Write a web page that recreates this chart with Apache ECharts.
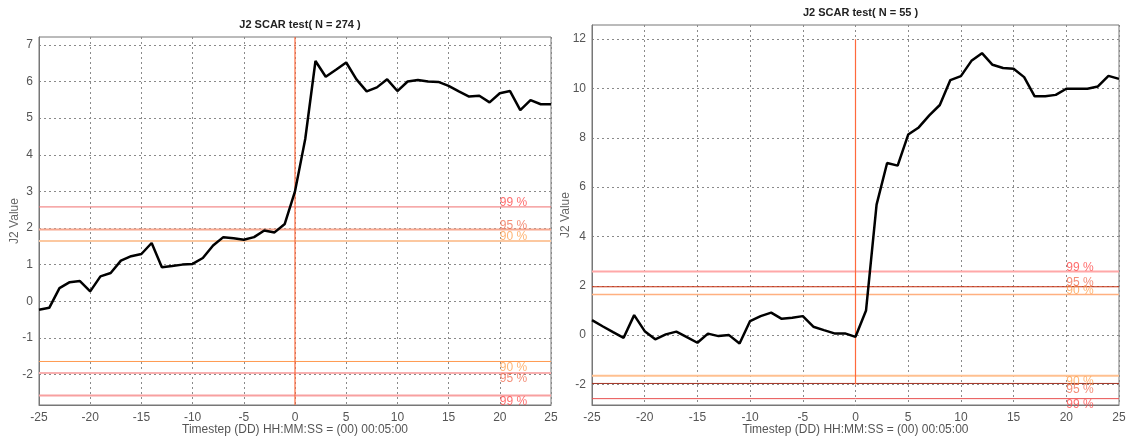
<!DOCTYPE html>
<html>
<head>
<meta charset="utf-8">
<script src="https://cdn.jsdelivr.net/npm/echarts@6/dist/echarts.min.js"></script>
<style>
html,body{margin:0;padding:0;background:#fff;}
#c{width:1127px;height:437px;}
</style>
</head>
<body>
<div id="c"></div>
<script>
const timesteps = [-25,-24,-23,-22,-21,-20,-19,-18,-17,-16,-15,-14,-13,-12,-11,-10,-9,-8,-7,-6,-5,-4,-3,-2,-1,0,1,2,3,4,5,6,7,8,9,10,11,12,13,14,15,16,17,18,19,20,21,22,23,24,25];
const leftValues = [-0.23,-0.18,0.36,0.52,0.55,0.27,0.68,0.77,1.11,1.23,1.29,1.59,0.93,0.96,1.00,1.02,1.18,1.52,1.75,1.72,1.68,1.75,1.93,1.88,2.11,3.0,4.43,6.56,6.13,6.32,6.52,6.06,5.73,5.84,6.06,5.74,6.0,6.04,6.0,5.99,5.88,5.73,5.59,5.61,5.43,5.68,5.74,5.22,5.49,5.38,5.38];
const rightValues = [0.61,0.36,0.12,-0.11,0.81,0.16,-0.17,0.03,0.14,-0.08,-0.31,0.06,-0.04,0.0,-0.34,0.57,0.77,0.91,0.66,0.70,0.77,0.34,0.2,0.07,0.07,-0.07,1.0,5.29,6.98,6.87,8.13,8.42,8.91,9.33,10.34,10.50,11.12,11.43,10.96,10.83,10.8,10.46,9.68,9.68,9.74,9.99,9.99,9.99,10.08,10.51,10.39];
const titles = ['J2 SCAR test( N = 274 )', 'J2 SCAR test( N = 55 )'];
const thresholdNames = ['90 %', '95 %', '99 %'];
const thresholdValues = [1.645, 1.96, 2.576];
const xTickValues = [-25,-20,-15,-10,-5,0,5,10,15,20,25];
const leftYTicks = [-2,-1,0,1,2,3,4,5,6,7];
const rightYTicks = [-2,0,2,4,6,8,10,12];
const labelX = 20;

const FONT = '"Liberation Sans", Arial, Helvetica, sans-serif';
const grids = [
  {left: 39, top: 37, width: 512, height: 368},
  {left: 592, top: 25, width: 527, height: 380}
];
const yTicks = [leftYTicks, rightYTicks];
const yRanges = [
  [-thresholdValues[2]*1.1, Math.max(...leftValues)*1.1],
  [-thresholdValues[2]*1.1, Math.max(...rightValues)*1.1]
];
const vLineRanges = [yRanges[0], [-2, 12]];
const xMin = xTickValues[0], xMax = xTickValues[xTickValues.length-1];

// threshold line styles per chart: [+90,+95,+99,-90,-95,-99]
const lineStyles = [
  [
    {color:'#fcc8a0', width:2},
    {color:'#f8a890', width:2},
    {color:'#f07070', width:1},
    {color:'#ff9a50', width:1},
    {color:'#f8b0b0', width:2},
    {color:'#f8a0a0', width:2}
  ],
  [
    {color:'#ffb080', width:1.5},
    {color:'#c83010', width:1},
    {color:'#ffa8a8', width:2},
    {color:'#ffc090', width:2},
    {color:'#a03020', width:1},
    {color:'#e85050', width:1}
  ]
];
const labelColors = ['#ffa050', '#f07055', '#ff4848'];

function refLine(i, pts, style) {
  return {
    type:'line', xAxisIndex:i, yAxisIndex:i, data:pts, silent:true,
    showSymbol:false, symbol:'none', z:2,
    lineStyle:Object.assign({type:'solid', opacity:1}, style),
    itemStyle:{color:style.color},
    emphasis:{disabled:true}
  };
}

function makeChart(i, values) {
  const pairs = timesteps.map((t, k) => [t, values[k]]);
  const out = [];
  thresholdValues.forEach((v, k) => {
    out.push(refLine(i, [[xMin, v], [xMax, v]], lineStyles[i][k]));
  });
  thresholdValues.forEach((v, k) => {
    out.push(refLine(i, [[xMin, -v], [xMax, -v]], lineStyles[i][3+k]));
  });
  out.push(refLine(i, [[0, vLineRanges[i][0]], [0, vLineRanges[i][1]]], {color:'#ff6a3d', width:1.2}));
  const labelsData = [];
  thresholdValues.forEach((v, k) => {
    labelsData.push({value:[labelX, v], name: thresholdNames[k],
      label:{color: labelColors[k], position:[0,-10]}});
    labelsData.push({value:[labelX, -v], name: thresholdNames[k],
      label:{color: labelColors[k], position:[0,0]}});
  });
  out.push({
    type:'scatter', xAxisIndex:i, yAxisIndex:i, symbolSize:0, silent:true, z:3,
    data: labelsData,
    label:{show:true, formatter: p => p.name, fontSize:12, fontFamily:FONT, align:'left', verticalAlign:'top'}
  });
  out.push({
    type:'line', xAxisIndex:i, yAxisIndex:i, data:pairs, showSymbol:false, symbol:'none',
    lineStyle:{color:'#000', width:2.5}, itemStyle:{color:'#000'}, z:5, silent:true
  });
  return out;
}

const chart = echarts.init(document.getElementById('c'), null, {renderer:'canvas'});
const axisLabelStyle = {color:'#555', fontSize:12, fontFamily:FONT};
const splitStyle = {show:true, lineStyle:{color:'#8a8a8a', type:[2,3], width:1}};

chart.setOption({
  animation:false,
  backgroundColor:'#fff',
  title: titles.map((t, i) => ({
    text: t,
    left: grids[i].left + grids[i].width/2,
    top: grids[i].top - 23,
    textAlign:'center',
    textStyle:{fontSize:11, fontWeight:'bold', color:'#222', fontFamily:FONT}
  })),
  grid: grids.map(g => Object.assign({show:true, borderColor:'#777', borderWidth:1, backgroundColor:'transparent', outerBoundsMode:'none', containLabel:false}, g)),
  xAxis: [0,1].map(i => ({
    type:'value', gridIndex:i, min:xMin, max:xMax, interval:5,
    name:'Timestep (DD) HH:MM:SS = (00) 00:05:00', nameLocation:'middle', nameGap:19, nameMoveOverlap:false,
    nameTextStyle:{color:'#555', fontSize:12, fontFamily:FONT},
    axisLine:{show:true, onZero:false, lineStyle:{color:'#777'}}, axisTick:{show:false},
    axisLabel:Object.assign({margin:7}, axisLabelStyle),
    splitLine:splitStyle
  })),
  yAxis: [0,1].map(i => ({
    type:'value', gridIndex:i, min:yRanges[i][0], max:yRanges[i][1],
    name:'J2 Value', nameLocation:'middle', nameGap: i===0 ? 18 : 20, nameMoveOverlap:false,
    nameTextStyle:{color:'#666', fontSize:12, fontFamily:FONT},
    axisLine:{show:true, onZero:false, lineStyle:{color:'#777'}},
    axisTick:{show:false, customValues: yTicks[i]},
    axisLabel:Object.assign({margin:6, customValues: yTicks[i]}, axisLabelStyle),
    splitLine:splitStyle
  })),
  series: makeChart(0, leftValues).concat(makeChart(1, rightValues))
});
</script>
</body>
</html>
